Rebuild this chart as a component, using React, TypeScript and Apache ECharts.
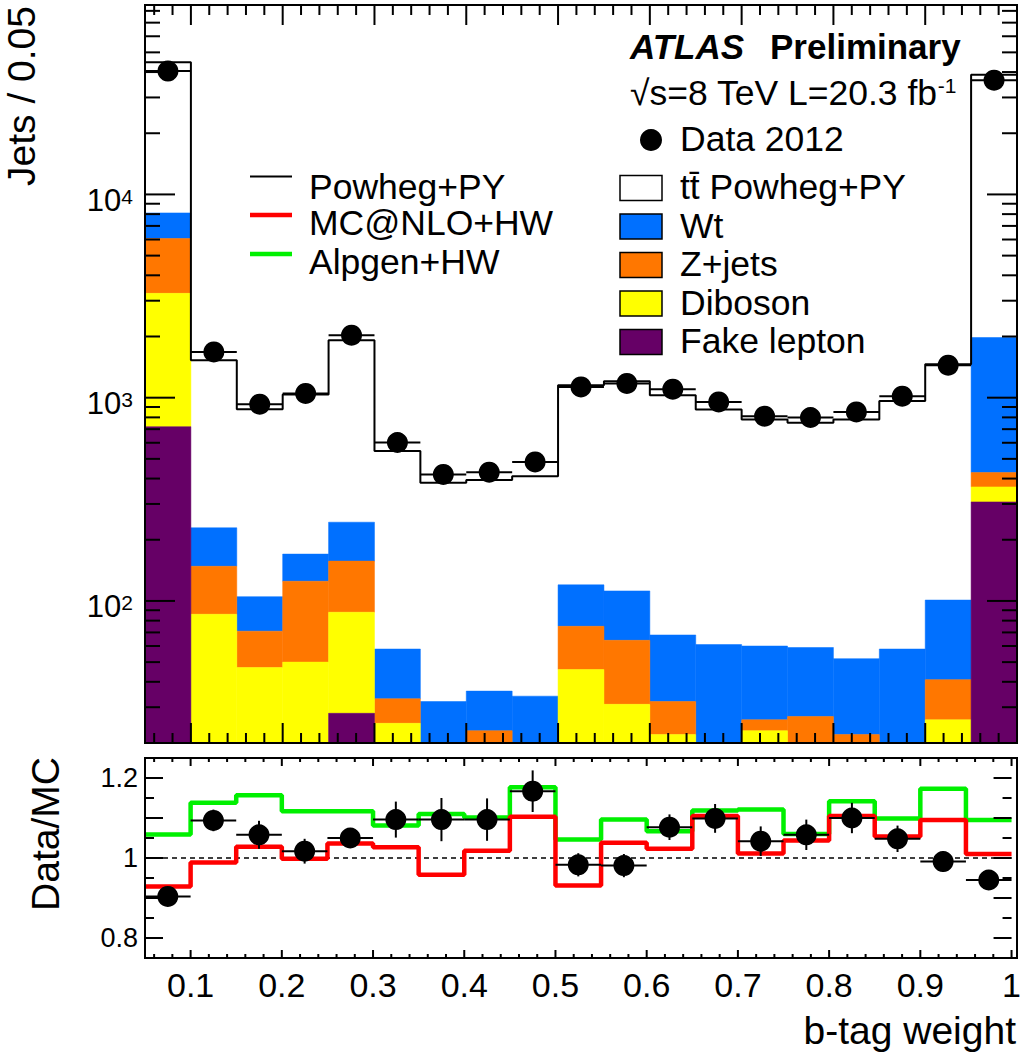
import React, { useEffect, useRef } from "react";
import * as echarts from "echarts";

const FONT = '"Liberation Sans", Arial, Helvetica, sans-serif';

// ---- binning (b-tag weight) ----
const binEdges = [0.05, 0.1, 0.15, 0.2, 0.25, 0.3, 0.35, 0.4, 0.45, 0.5, 0.55, 0.6, 0.65, 0.7, 0.75, 0.8, 0.85, 0.9, 0.95, 1.0];

// ---- stacked predictions (jets per bin), stacked bottom -> top ----
const fakeLepton = [720, 3, 2, 2, 28, 2, 1, 1, 1, 2, 1, 1, 1, 1, 1, 1, 1, 2, 307];
const diboson = [2540, 83, 45, 48, 60, 23, 6, 8, 7, 44, 30, 21, 8, 22, 10, 8, 8, 24, 57];
const zJets = [2810, 62, 24, 75, 69, 8, 5, 14, 8, 29, 33, 10, 9, 3, 16, 13, 9, 15, 64];
const wt = [2040, 81, 34, 45, 87, 25, 20, 13, 18, 45, 48, 36, 43, 34, 32, 30, 40, 60, 1549];
const ttbarPowheg = [36600, 1300, 772, 868, 1675, 489, 349, 357, 377, 1032, 1093, 960, 813, 720, 693, 729, 906, 1359, 36823];

// ---- data 2012 ----
const data2012 = [40450, 1680, 929, 1049, 2031, 602, 419, 430, 483, 1130, 1175, 1101, 953, 811, 799, 851, 1017, 1445, 36500];

// ---- ratio panel ----
const ratioData = [0.904, 1.094, 1.058, 1.017, 1.05, 1.096, 1.096, 1.096, 1.167, 0.983, 0.981, 1.077, 1.099, 1.042, 1.058, 1.1, 1.048, 0.991, 0.945];
const ratioDataErr = [0.005, 0.027, 0.035, 0.031, 0.023, 0.045, 0.054, 0.053, 0.052, 0.029, 0.029, 0.032, 0.036, 0.037, 0.038, 0.038, 0.033, 0.026, 0.005];
const ratioMcnlo = [0.929, 0.989, 1.028, 0.998, 1.036, 1.027, 0.958, 1.018, 1.103, 0.931, 1.038, 1.023, 1.105, 1.011, 1.044, 1.105, 1.054, 1.095, 1.01];
const ratioAlpgen = [1.059, 1.138, 1.157, 1.117, 1.117, 1.081, 1.11, 1.101, 1.177, 1.046, 1.096, 1.067, 1.119, 1.121, 1.06, 1.142, 1.099, 1.173, 1.095];

// ---- tick labels ----
const logTickLabels = [100, 1000, 10000];
const ratioTickLabels = [0.8, 1, 1.2];
const xTickLabels = [0.1, 0.2, 0.3, 0.4, 0.5, 0.6, 0.7, 0.8, 0.9, 1];

const COL = {
  fake: "#660066",
  diboson: "#ffff00",
  zjets: "#ff7700",
  wt: "#0070ff",
  red: "#ff0000",
  green: "#00f000",
};

const G0 = { left: 145, top: 5, width: 872, height: 738 };
const G1 = { left: 145, top: 758, width: 872, height: 200 };

function near(a: number, b: number) {
  return Math.abs(a - b) < 1e-6 * Math.max(1, Math.abs(b));
}

function buildOption() {
  const nBins = binEdges.length - 1;
  const stack = [fakeLepton, diboson, zJets, wt, ttbarPowheg];
  const cum: number[][] = [];
  let running = new Array(nBins).fill(0);
  stack.forEach((arr) => {
    running = running.map((r, i) => r + arr[i]);
    cum.push(running);
  });
  const total = cum[4];
  const lefts = binEdges.slice(0, -1);
  const centers = lefts.map((x, i) => (x + binEdges[i + 1]) / 2);

  const rectSeries = (k: number, color: string) => ({
    type: "custom",
    xAxisIndex: 0,
    yAxisIndex: 0,
    z: 2,
    silent: true,
    encode: { x: [0, 1], y: [2, 3] },
    data: lefts.map((x0, i) => [x0, binEdges[i + 1], Math.max(k === 0 ? 1 : cum[k - 1][i], 1), cum[k][i]]),
    renderItem: (params: any, api: any) => {
      const p0 = api.coord([api.value(0), api.value(3)]);
      const p1 = api.coord([api.value(1), api.value(2)]);
      const cs = params.coordSys;
      const shape = echarts.graphic.clipRectByRect(
        { x: p0[0], y: p0[1], width: p1[0] - p0[0], height: p1[1] - p0[1] },
        { x: cs.x, y: cs.y, width: cs.width, height: cs.height }
      );
      if (!shape) return { type: "group", children: [] };
      return { type: "rect", shape, style: { fill: color, stroke: color, lineWidth: 0.5 } };
    },
  });

  const stepData = (vals: number[]) =>
    lefts.map((x, i) => [x, vals[i]]).concat([[binEdges[nBins], vals[nBins - 1]]]);

  const errSeries = (xi: number, items: number[][], z: number) => ({
    type: "custom",
    xAxisIndex: xi,
    yAxisIndex: xi,
    z,
    silent: true,
    encode: { x: [0, 1], y: 2 },
    data: items,
    renderItem: (params: any, api: any) => {
      const x0 = api.value(0), x1 = api.value(1), y = api.value(2), e = api.value(3);
      const a = api.coord([x0, y]);
      const b = api.coord([x1, y]);
      const children: any[] = [
        { type: "line", shape: { x1: a[0], y1: a[1], x2: b[0], y2: b[1] }, style: { stroke: "#000", lineWidth: 2 } },
      ];
      if (e > 0) {
        const xc = (x0 + x1) / 2;
        const t = api.coord([xc, y + e]);
        const u = api.coord([xc, y - e]);
        children.push({ type: "line", shape: { x1: t[0], y1: t[1], x2: u[0], y2: u[1] }, style: { stroke: "#000", lineWidth: 2 } });
      }
      return { type: "group", children };
    },
  });

  // tick marks (drawn on all four sides, ROOT style)
  const xTicks: number[][] = [];
  for (let i = 3; i <= 50; i++) xTicks.push([i * 0.02, i % 5 === 0 ? 1 : 0]);
  const logTicks: number[] = [];
  for (let d = 1; d <= 4; d++) for (let m = 1; m <= 9; m++) {
    const v = m * Math.pow(10, d);
    if (v > 20 && v < 85500) logTicks.push(v);
  }
  const ratioTicks: number[][] = [];
  for (let i = 16; i <= 24; i++) ratioTicks.push([i * 0.05, i % 2 === 0 ? 1 : 0]);

  const xTickSeries = (gi: number, yRef: number, maj: number, min: number) => ({
    type: "custom",
    xAxisIndex: gi,
    yAxisIndex: gi,
    z: 50,
    silent: true,
    encode: { x: 0, y: 1 },
    data: xTicks.map((t) => [t[0], yRef, t[1]]),
    renderItem: (params: any, api: any) => {
      const px = api.coord([api.value(0), api.value(1)])[0];
      const len = api.value(2) ? maj : min;
      const cs = params.coordSys;
      const st = { stroke: "#000", lineWidth: 2 };
      return {
        type: "group",
        children: [
          { type: "line", shape: { x1: px, y1: cs.y + cs.height, x2: px, y2: cs.y + cs.height - len }, style: st },
          { type: "line", shape: { x1: px, y1: cs.y, x2: px, y2: cs.y + len }, style: st },
        ],
      };
    },
  });

  const yTickSeries = (gi: number, items: number[][], maj: number, min: number) => ({
    type: "custom",
    xAxisIndex: gi,
    yAxisIndex: gi,
    z: 50,
    silent: true,
    encode: { x: 0, y: 1 },
    data: items,
    renderItem: (params: any, api: any) => {
      const py = api.coord([api.value(0), api.value(1)])[1];
      const len = api.value(2) ? maj : min;
      const cs = params.coordSys;
      const st = { stroke: "#000", lineWidth: 2 };
      return {
        type: "group",
        children: [
          { type: "line", shape: { x1: cs.x, y1: py, x2: cs.x + len, y2: py }, style: st },
          { type: "line", shape: { x1: cs.x + cs.width, y1: py, x2: cs.x + cs.width - len, y2: py }, style: st },
        ],
      };
    },
  });

  const txt = (text: string, x: number, y: number, size: number, extra: any = {}) => ({
    type: "text",
    x,
    y,
    z: 100,
    silent: true,
    style: { text, fill: "#000", font: `${size}px ${FONT}`, verticalAlign: "middle", align: "left", ...extra },
  });

  const legendBoxes = [
    { label: "tt\u0304 Powheg+PY", color: "#ffffff", y: 187 },
    { label: "Wt", color: COL.wt, y: 225.5 },
    { label: "Z+jets", color: COL.zjets, y: 264 },
    { label: "Diboson", color: COL.diboson, y: 302.5 },
    { label: "Fake lepton", color: COL.fake, y: 341 },
  ];
  const legendLines = [
    { label: "Powheg+PY", color: "#000", w: 2, ly: 176.5, ty: 186.5 },
    { label: "MC@NLO+HW", color: COL.red, w: 4.5, ly: 215, ty: 223 },
    { label: "Alpgen+HW", color: COL.green, w: 4.5, ly: 254, ty: 262 },
  ];

  const graphic: any[] = [
    // frames
    { type: "rect", z: 90, silent: true, shape: { x: G0.left, y: G0.top, width: G0.width, height: G0.height }, style: { fill: "none", stroke: "#000", lineWidth: 2 } },
    { type: "rect", z: 90, silent: true, shape: { x: G1.left, y: G1.top, width: G1.width, height: G1.height }, style: { fill: "none", stroke: "#000", lineWidth: 2 } },
    // axis titles
    { ...txt("Jets / 0.05", 21, 6, 39, { align: "right" }), rotation: Math.PI / 2 },
    { ...txt("Data/MC", 45, 757, 39, { align: "right" }), rotation: Math.PI / 2 },
    txt("b-tag weight", 1016, 1030, 39, { align: "right" }),
    // ATLAS label
    txt("ATLAS", 630, 46, 35, { font: `italic bold 35px ${FONT}` }),
    txt("Preliminary", 770, 46, 35, { font: `bold 35px ${FONT}` }),
    {
      ...txt("\u221As=8 TeV L=20.3 fb{s|-1}", 630, 92.5, 35.5),
      style: {
        text: "{m|\u221As=8 TeV L=20.3 fb}{s|-1}",
        verticalAlign: "middle",
        align: "left",
        rich: {
          m: { fontSize: 35.5, fontFamily: FONT, fill: "#000", lineHeight: 36, verticalAlign: "bottom" },
          s: { fontSize: 21, fontFamily: FONT, fill: "#000", lineHeight: 18, verticalAlign: "top" },
        },
      },
    },
    // data legend
    { type: "circle", z: 100, silent: true, shape: { cx: 651, cy: 140, r: 11 }, style: { fill: "#000" } },
    txt("Data 2012", 680, 138.5, 35.5),
  ];
  legendBoxes.forEach((b) => {
    graphic.push({ type: "rect", z: 100, silent: true, shape: { x: 620, y: b.y + 1 - 12.5, width: 42, height: 25 }, style: { fill: b.color, stroke: "#000", lineWidth: 1.5 } });
    graphic.push(txt(b.label, 680, b.y, 35.5));
  });
  legendLines.forEach((l) => {
    graphic.push({ type: "line", z: 100, silent: true, shape: { x1: 250, y1: l.ly, x2: 292, y2: l.ly }, style: { stroke: l.color, lineWidth: l.w } });
    graphic.push(txt(l.label, 309, l.ty, 35.5));
  });

  const hiddenAxisParts = { axisTick: { show: false }, axisLine: { show: false }, splitLine: { show: false } };

  return {
    animation: false,
    backgroundColor: "#ffffff",
    grid: [
      { ...G0, containLabel: false },
      { ...G1, containLabel: false },
    ],
    xAxis: [
      { gridIndex: 0, type: "value", min: 0.05, max: 1.0, axisLabel: { show: false }, ...hiddenAxisParts },
      {
        gridIndex: 1,
        type: "value",
        min: 0.05,
        max: 1.0,
        splitNumber: 10,
        ...hiddenAxisParts,
        axisLabel: {
          show: true,
          margin: 10,
          showMaxLabel: true,
          showMinLabel: false,
          fontSize: 34,
          fontFamily: FONT,
          color: "#000",
          formatter: (v: number) => {
            const hit = xTickLabels.find((t) => near(v, t));
            return hit === undefined ? "" : String(hit);
          },
        },
      },
    ],
    yAxis: [
      {
        gridIndex: 0,
        type: "log",
        logBase: 10,
        min: 20,
        max: 85500,
        ...hiddenAxisParts,
        axisLabel: {
          show: true,
          margin: 12,
          padding: [13, 0, 0, 0],
          formatter: (v: number) => {
            const hit = logTickLabels.find((t) => near(v, t));
            if (hit === undefined) return "";
            return `{b|10}{s|${Math.round(Math.log10(hit))}}`;
          },
          rich: {
            b: { fontSize: 31, fontFamily: FONT, color: "#000", lineHeight: 30, verticalAlign: "bottom" },
            s: { fontSize: 21, fontFamily: FONT, color: "#000", lineHeight: 12, verticalAlign: "top" },
          },
        },
      },
      {
        gridIndex: 1,
        type: "value",
        min: 0.75,
        max: 1.25,
        splitNumber: 5,
        ...hiddenAxisParts,
        axisLabel: {
          show: true,
          margin: 7,
          fontSize: 27,
          fontFamily: FONT,
          color: "#000",
          formatter: (v: number) => {
            const hit = ratioTickLabels.find((t) => near(v, t));
            return hit === undefined ? "" : String(hit);
          },
        },
      },
    ],
    series: [
      rectSeries(3, COL.wt),
      rectSeries(2, COL.zjets),
      rectSeries(1, COL.diboson),
      rectSeries(0, COL.fake),
      {
        type: "line",
        name: "Powheg+PY",
        xAxisIndex: 0,
        yAxisIndex: 0,
        z: 5,
        step: "end",
        showSymbol: false,
        symbol: "none",
        silent: true,
        lineStyle: { color: "#000", width: 2 },
        data: stepData(total),
      },
      errSeries(0, lefts.map((x0, i) => [x0, binEdges[i + 1], data2012[i], 0]), 6),
      {
        type: "scatter",
        name: "Data 2012",
        xAxisIndex: 0,
        yAxisIndex: 0,
        z: 7,
        symbol: "circle",
        symbolSize: 21,
        silent: true,
        itemStyle: { color: "#000", opacity: 1 },
        data: centers.map((c, i) => [c, data2012[i]]),
      },
      // ratio panel
      {
        type: "line",
        xAxisIndex: 1,
        yAxisIndex: 1,
        z: 3,
        silent: true,
        symbol: "none",
        lineStyle: { color: "#000", width: 1.3, type: [5, 4] },
        data: [[0.05, 1], [1.0, 1]],
      },
      {
        type: "line",
        name: "Alpgen+HW",
        xAxisIndex: 1,
        yAxisIndex: 1,
        z: 4,
        step: "end",
        symbol: "none",
        silent: true,
        lineStyle: { color: COL.green, width: 4.5 },
        data: stepData(ratioAlpgen),
      },
      {
        type: "line",
        name: "MC@NLO+HW",
        xAxisIndex: 1,
        yAxisIndex: 1,
        z: 4,
        step: "end",
        symbol: "none",
        silent: true,
        lineStyle: { color: COL.red, width: 4.5 },
        data: stepData(ratioMcnlo),
      },
      errSeries(1, lefts.map((x0, i) => [x0, binEdges[i + 1], ratioData[i], ratioDataErr[i]]), 6),
      {
        type: "scatter",
        name: "Data/MC",
        xAxisIndex: 1,
        yAxisIndex: 1,
        z: 7,
        symbol: "circle",
        symbolSize: 21,
        silent: true,
        itemStyle: { color: "#000", opacity: 1 },
        data: centers.map((c, i) => [c, ratioData[i]]),
      },
      // ticks
      xTickSeries(0, 100, 20, 10),
      yTickSeries(0, logTicks.map((v) => [0.5, v, near(Math.log10(v), Math.round(Math.log10(v))) ? 1 : 0]), 30, 15),
      xTickSeries(1, 1, 8, 4),
      yTickSeries(1, ratioTicks.map((t) => [0.5, t[0], t[1]]), 18, 9),
    ],
    graphic,
  };
}

export default function App() {
  const ref = useRef<HTMLDivElement>(null);
  useEffect(() => {
    if (!ref.current) return;
    const chart = echarts.init(ref.current, undefined, { renderer: "svg" });
    chart.setOption(buildOption() as any);
    return () => chart.dispose();
  }, []);
  return (
    <div
      ref={ref}
      style={{ position: "absolute", left: 0, top: 0, width: 1024, height: 1058, background: "#fff" }}
    />
  );
}
